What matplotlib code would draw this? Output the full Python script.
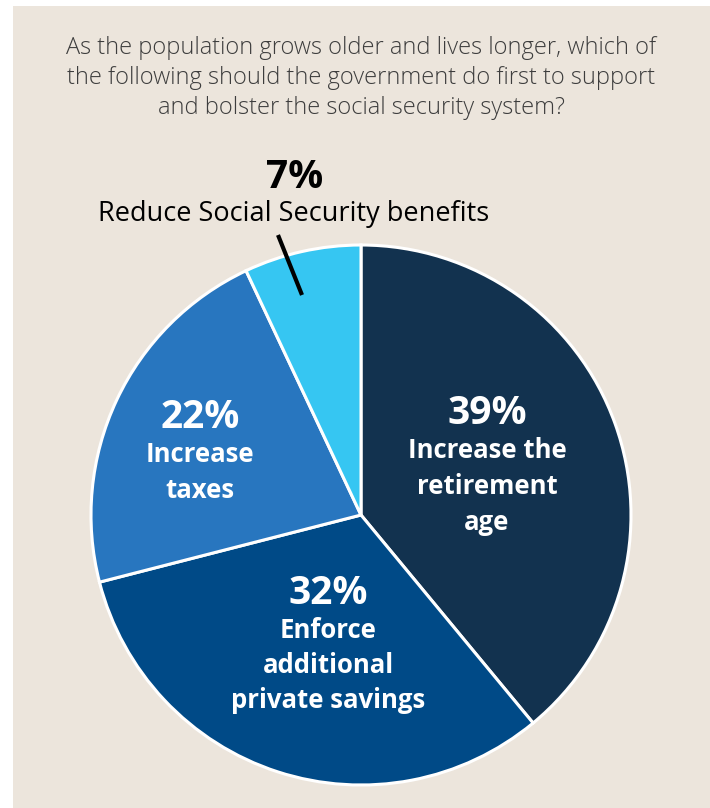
import matplotlib.pyplot as plt
from matplotlib.patches import Rectangle

# Survey shares, clockwise from 12 o'clock
shares = [39, 32, 22, 7]
pct_labels = [f"{v}%" for v in shares]
answers = [
    ["Increase the", "retirement", "age"],
    ["Enforce", "additional", "private savings"],
    ["Increase", "taxes"],
    ["Reduce Social Security benefits"],
]
colors = ["#12324f", "#004a87", "#2876bf", "#36c6f2"]

question = (
    "As the population grows older and lives longer, which of\n"
    "the following should the government do first to support\n"
    "and bolster the social security system?"
)

W, H = 710, 808
fig = plt.figure(figsize=(W / 100, H / 100), dpi=100, facecolor="white")
ax = fig.add_axes([0, 0, 1, 1])

cx, cy, r = 361, H - 515, 270
wedges, _ = ax.pie(
    shares,
    colors=colors,
    startangle=90,
    counterclock=False,
    center=(cx, cy),
    radius=r,
    wedgeprops=dict(edgecolor="white", linewidth=2.2),
)
ax.set_xlim(0, W)
ax.set_ylim(0, H)
ax.set_aspect("auto")
ax.axis("off")

# beige panel behind everything
ax.add_patch(Rectangle((13, 0), W - 13, H - 6, facecolor="#ece5dc",
                       edgecolor="none", zorder=-5))

ax.text(361, H - 78, question, ha="center", va="center", fontsize=17,
        family="Open Sans", fontweight="light", color="#3d3d3d",
        linespacing=1.33)

# inside labels (percent + answer lines)
pos = [(487, 413, 36), (328, 593, 34.5), (200, 417, 36)]
for (x, y, step), p, lines in zip(pos, pct_labels[:3], answers[:3]):
    ax.text(x, H - y, p, ha="center", va="center", fontsize=28,
            color="white", family="Open Sans", fontweight="bold")
    for i, line in enumerate(lines):
        ax.text(x, H - (y + 38 + i * step), line, ha="center", va="center",
                fontsize=18.5, color="white", family="Open Sans",
                fontweight="bold")

# small slice gets an outside callout
ax.text(295, H - 177, pct_labels[3], ha="center", va="center", fontsize=28,
        family="Open Sans", fontweight="bold", color="black")
ax.text(294, H - 214, answers[3][0], ha="center", va="center", fontsize=19.5,
        family="Open Sans", color="black")
ax.plot([278, 302], [H - 235, H - 295], color="black", linewidth=3,
        solid_capstyle="butt")

fig.savefig("out.png", dpi=100, facecolor=fig.get_facecolor())
